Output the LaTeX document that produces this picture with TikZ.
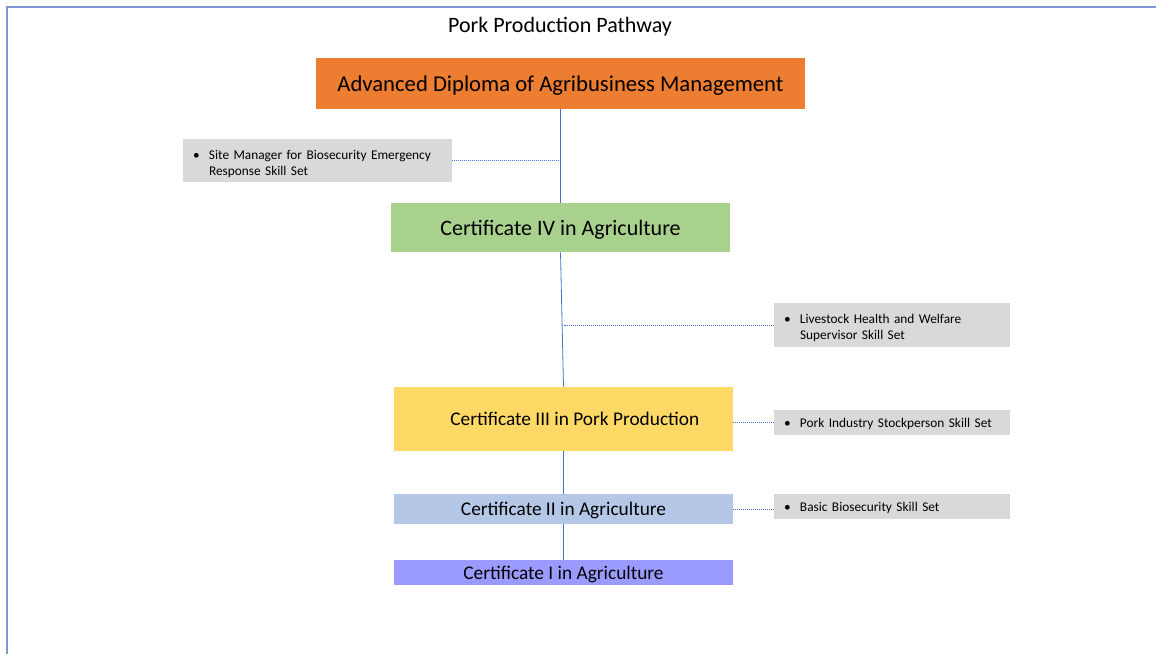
\documentclass[tikz,border=0pt]{standalone}
\usepackage{fontspec}
\setmainfont{Carlito}
\usetikzlibrary{positioning}

\definecolor{advorange}{HTML}{ED7D31}
\definecolor{certgreen}{HTML}{A9D18E}
\definecolor{certyellow}{HTML}{FFD966}
\definecolor{certblue}{HTML}{B4C7E7}
\definecolor{certpurple}{HTML}{9B9BFF}
\definecolor{skillgray}{HTML}{D9D9D9}
\definecolor{linkblue}{HTML}{4472C4}
\definecolor{frameblue}{RGB}{128,150,208}

\begin{document}
\begin{tikzpicture}[x=0.75pt, y=-0.75pt]

	\tikzstyle{box} = [inner sep=0pt, text depth=0pt, minimum width=254.25pt, align=center, font=\fontsize{14.5}{17}\selectfont];
	\tikzstyle{skill} = [fill=skillgray, inner xsep=7.5pt, inner ysep=0pt, align=left, font=\fontsize{10}{12}\selectfont];
	\tikzstyle{link} = [linkblue, line width=0.6pt];
	\tikzstyle{dotlink} = [linkblue, line width=0.5pt, densely dotted];

	\useasboundingbox (0,0) rectangle (1156,653);
	\draw[frameblue, line width=1.2pt] (7,655) |- (1158,7);

	\node (title) at (560,27) {\fontsize{16.5}{19}\selectfont Pork Production Pathway};

	\node[box, fill=advorange, minimum width=366.75pt, minimum height=38.25pt, font=\fontsize{17}{20}\selectfont] (adv) at (560.5,83.5) {Advanced Diploma of Agribusiness Management};
	\node[box, fill=certgreen, minimum height=36.75pt, font=\fontsize{16.5}{19}\selectfont, below of=adv, node distance=108pt] (cert4) {Certificate IV in Agriculture};
	\node[box, fill=certyellow, minimum height=48pt, below of=cert4, node distance=143.6pt, xshift=2.25pt] (cert3) {\hspace*{17pt}Certificate III in Pork Production};
	\node[box, fill=certblue, minimum height=22.5pt, below of=cert3, node distance=67.5pt] (cert2) {Certificate II in Agriculture};
	\node[box, fill=certpurple, minimum height=18.75pt, below of=cert2, node distance=47.6pt] (cert1) {Certificate I in Agriculture};

	\node[skill, text width=186.75pt, minimum height=32.25pt] (site) at (317.5,160.5) {\raisebox{-2.5pt}[\height][\depth]{\begin{tabular}{@{}p{12pt}@{}l@{}}\textbullet & Site Manager for Biosecurity Emergency\\ & Response Skill Set\end{tabular}}};
	\node[skill, text width=162pt, minimum height=33pt] (live) at (892,325) {\raisebox{-2.5pt}[\height][\depth]{\begin{tabular}{@{}p{12pt}@{}l@{}}\textbullet & Livestock Health and Welfare\\ & Supervisor Skill Set\end{tabular}}};
	\node[skill, text width=162pt, minimum height=18.75pt] (stock) at (892,422.5) {\raisebox{-1.5pt}[\height][\depth]{\begin{tabular}{@{}p{12pt}@{}l@{}}\textbullet & Pork Industry Stockperson Skill Set\end{tabular}}};
	\node[skill, text width=162pt, minimum height=18.75pt] (basic) at (892,506.5) {\raisebox{-1.5pt}[\height][\depth]{\begin{tabular}{@{}p{12pt}@{}l@{}}\textbullet & Basic Biosecurity Skill Set\end{tabular}}};

	\draw[link] (adv.south) -- (cert4.north);
	\draw[link] (cert4.south) -- (cert3.north);
	\draw[link] (cert3.south) -- (cert2.north);
	\draw[link] (cert2.south) -- (cert1.north);

	\draw[dotlink] (site.east) -- (site.east -| adv.south);
	\draw[dotlink] (live.west) -- (live.west -| cert3.north);
	\draw[dotlink] (cert3.east |- stock.west) -- (stock.west);
	\draw[dotlink] (cert2.east) -- (cert2.east -| basic.west);

\end{tikzpicture}
\end{document}
